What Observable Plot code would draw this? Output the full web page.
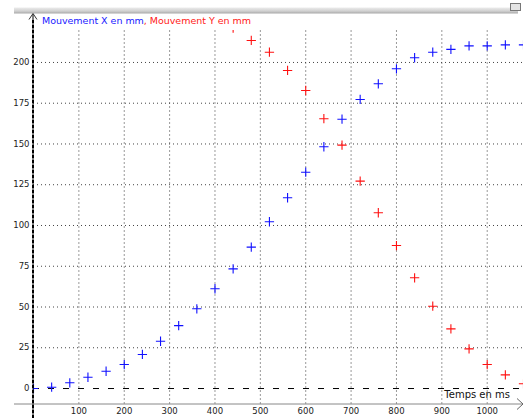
<!DOCTYPE html>
<html><head><meta charset="utf-8">
<script src="https://cdn.jsdelivr.net/npm/d3@7"></script>
<script src="https://cdn.jsdelivr.net/npm/@observablehq/plot@0.6"></script>
<style>
body{margin:0;background:#fff;}
#chart{position:relative;width:528px;height:418px;overflow:hidden;background:#fff}
</style>
</head><body><div id="chart"></div>
<script>
// ---- data ----
const temps = [0,40,80,120,160,200,240,280,320,360,400,440,480,520,560,600,640,680,720,760,800,840,880,920,960,1000,1040,1080];
const mouvementX = [0,0.8,3.5,6.9,10.6,14.7,20.9,29,38.6,48.9,61.2,73.4,86.7,102.3,117,132.7,148.3,165.2,177.3,186.9,196.1,202.9,206.3,208,210.2,210.2,210.8,210.8];
const tempsY = [440,480,520,560,600,640,680,720,760,800,840,880,920,960,1000,1040,1080];
const mouvementY = [221,213.5,206.3,195.1,182.8,165.5,149.3,127.2,107.8,87.7,67.9,50.5,36.6,24.3,14.7,8.4,2.9];
const xTicks = [100,200,300,400,500,600,700,800,900,1000];
const yTicks = [0,25,50,75,100,125,150,175,200];
const yGridTicks = [25,50,75,100,125,150,175,200];
const legendX = "Mouvement X en mm";
const legendY = ", Mouvement Y en mm";
const xLabel = "Temps en ms";

const W = 528, H = 418, mL = 33, mR = 5, mT = 30, mB = 14;
const dataX = temps.map((t, i) => ({t, v: mouvementX[i]}));
const dataY = tempsY.map((t, i) => ({t, v: mouvementY[i]}));

const chart = Plot.plot({
  width: W, height: H,
  marginLeft: mL, marginRight: mR, marginTop: mT, marginBottom: mB,
  style: {fontFamily: "DejaVu Sans", fontSize: "8.5px", background: "white", overflow: "visible"},
  x: {domain: [0, 1080], label: null},
  y: {domain: [-9.8, 219.6], label: null},
  marks: [
    Plot.gridX(xTicks, {stroke: "#999", strokeOpacity: 1, strokeDasharray: "2,2"}),
    Plot.gridY(yGridTicks, {stroke: "#444", strokeOpacity: 1, strokeDasharray: "1,3"}),
    Plot.ruleY([0], {stroke: "#000", strokeDasharray: "6,9"}),
    Plot.dot(dataX, {x: "t", y: "v", symbol: "plus", r: 3.1, stroke: "#1010ff", strokeWidth: 1.1, clip: true}),
    Plot.dot(dataY, {x: "t", y: "v", symbol: "plus", r: 3.1, stroke: "#ff1010", strokeWidth: 1.1, clip: true}),
    Plot.axisX(xTicks, {tickSize: 0, tickPadding: 3, fill: "#222", label: null, tickFormat: d => String(d)}),
    Plot.axisY(yTicks, {tickSize: 0, tickPadding: 4, fill: "#222", label: null, tickFormat: d => String(d)})
  ]
});
document.getElementById("chart").appendChild(chart);

const svg = d3.select(chart);
const xs = chart.scale("x");
const x0 = xs.apply(0), yBottom = H - mB;

// top toolbar strip
const defs = svg.append("defs");
const g = defs.append("linearGradient").attr("id", "bar").attr("x1", 0).attr("x2", 0).attr("y1", 0).attr("y2", 1);
g.append("stop").attr("offset", "0%").attr("stop-color", "#ececec");
g.append("stop").attr("offset", "60%").attr("stop-color", "#d0d0d0");
g.append("stop").attr("offset", "100%").attr("stop-color", "#a8a8a8");
svg.append("rect").attr("x", 14).attr("y", 7.5).attr("width", 504).attr("height", 6).attr("fill", "url(#bar)");
svg.append("rect").attr("x", 510.5).attr("y", 3.5).attr("width", 10).attr("height", 7).attr("fill", "#e4e4e4").attr("stroke", "#777");

// x axis line with arrow
svg.append("line").attr("x1", 14).attr("x2", W - mR).attr("y1", yBottom).attr("y2", yBottom).attr("stroke", "#888");
svg.append("path").attr("d", `M${W - mR - 6},${yBottom - 5.5}L${W - mR},${yBottom}L${W - mR - 6},${yBottom + 5.5}`).attr("fill", "none").attr("stroke", "#666");

// y axis line with arrow
svg.append("line").attr("x1", x0).attr("x2", x0).attr("y1", 14).attr("y2", H).attr("stroke", "#000").attr("stroke-width", 1);
svg.append("line").attr("x1", x0).attr("x2", x0).attr("y1", 20).attr("y2", H).attr("stroke", "#000").attr("stroke-width", 2).attr("stroke-dasharray", "3,2");
svg.append("path").attr("d", `M${x0 - 4},${19.5}L${x0},${13.5}L${x0 + 4},${19.5}`).attr("fill", "none").attr("stroke", "#333");

// legend
const leg = svg.append("text").attr("x", 42).attr("y", 23.5).attr("text-anchor", "start").attr("font-family", "DejaVu Sans").attr("font-size", 9.5).attr("textLength", 209).attr("lengthAdjust", "spacing");
leg.append("tspan").attr("fill", "#2020ff").text(legendX);
leg.append("tspan").attr("fill", "#ff2020").text(legendY);

// x axis title
svg.append("text").attr("x", 510).attr("y", 398).attr("text-anchor", "end").attr("font-family", "DejaVu Sans").attr("font-size", 10).attr("fill", "#111").text(xLabel);
</script>
</body></html>
